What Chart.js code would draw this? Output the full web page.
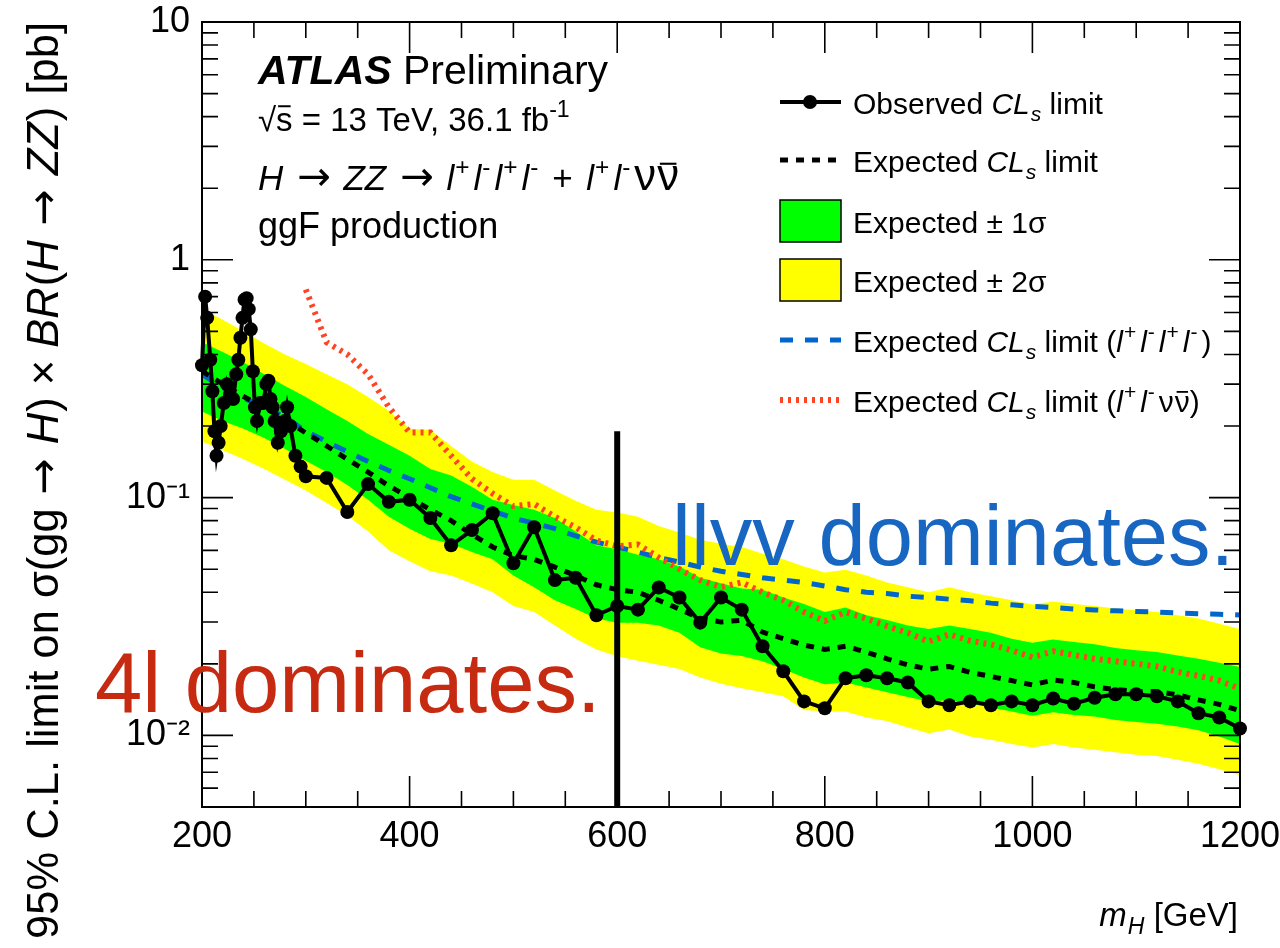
<!DOCTYPE html>
<html>
<head>
<meta charset="utf-8">
<title>H to ZZ limit</title>
<script src="https://cdn.jsdelivr.net/npm/chart.js@4.4.1/dist/chart.umd.min.js"></script>
<style>
  html, body { margin: 0; padding: 0; background: #fff; }
  canvas { display: block; }
</style>
</head>
<body>
<canvas id="limitChart" width="1280" height="948"></canvas>
<script>
// mass grid used by the expected curves and the bands [GeV]
const massGrid = [200, 220, 240, 260, 280, 300, 320, 340, 360, 380, 400, 420, 440, 460, 480, 500, 520, 540, 560, 580,
    600, 620, 640, 660, 680, 700, 720, 740, 760, 780, 800, 820, 840, 860, 880, 900, 920, 940, 960, 980,
    1000, 1020, 1040, 1060, 1080, 1100, 1120, 1140, 1160, 1180, 1200];

const expLimit = [0.34, 0.30, 0.266, 0.24, 0.213, 0.187, 0.165, 0.145, 0.128, 0.112, 0.10, 0.089, 0.080, 0.070, 0.062, 0.057, 0.055, 0.051, 0.047, 0.043,
    0.041, 0.040, 0.037, 0.034, 0.031, 0.030, 0.0305, 0.0272, 0.0255, 0.024, 0.023, 0.0237, 0.0224, 0.021, 0.0198, 0.019, 0.0195, 0.0184, 0.0177, 0.017,
    0.0163, 0.0171, 0.0167, 0.016, 0.0156, 0.0153, 0.0153, 0.0148, 0.0141, 0.0135, 0.0127];

const band1Up = [0.45, 0.41, 0.37, 0.33, 0.295, 0.265, 0.235, 0.21, 0.185, 0.167, 0.15, 0.132, 0.124, 0.111, 0.098, 0.093, 0.089, 0.082, 0.072, 0.063,
    0.0607, 0.0575, 0.055, 0.0513, 0.046, 0.0436, 0.0415, 0.041, 0.038, 0.0357, 0.033, 0.0345, 0.032, 0.0306, 0.029, 0.028, 0.029, 0.028, 0.027, 0.0255,
    0.0245, 0.0253, 0.0247, 0.0242, 0.0233, 0.0228, 0.0224, 0.0217, 0.021, 0.0202, 0.0194];
const band1Down = [0.23, 0.21, 0.195, 0.178, 0.16, 0.143, 0.128, 0.113, 0.098, 0.083, 0.074, 0.067, 0.064, 0.059, 0.055, 0.047, 0.042, 0.037, 0.034, 0.031,
    0.0298, 0.0298, 0.029, 0.027, 0.0235, 0.0221, 0.0216, 0.0205, 0.019, 0.0175, 0.0164, 0.0167, 0.0159, 0.0152, 0.0145, 0.0139, 0.0141, 0.0136, 0.0131, 0.0126,
    0.0121, 0.0125, 0.0122, 0.012, 0.0116, 0.0114, 0.0112, 0.0109, 0.0105, 0.0099, 0.0092];
const band2Up = [0.62, 0.56, 0.50, 0.445, 0.40, 0.365, 0.33, 0.30, 0.265, 0.232, 0.195, 0.193, 0.165, 0.142, 0.128, 0.119, 0.119, 0.107, 0.097, 0.089,
    0.0865, 0.083, 0.076, 0.0713, 0.0665, 0.064, 0.062, 0.058, 0.055, 0.0513, 0.0484, 0.0497, 0.047, 0.044, 0.042, 0.040, 0.042, 0.040, 0.0385, 0.037,
    0.0355, 0.0366, 0.0357, 0.035, 0.0342, 0.0336, 0.033, 0.032, 0.031, 0.0295, 0.028];
const band2Down = [0.172, 0.158, 0.145, 0.132, 0.119, 0.107, 0.095, 0.084, 0.072, 0.06, 0.054, 0.049, 0.047, 0.0435, 0.040, 0.035, 0.033, 0.029, 0.0255, 0.023,
    0.0215, 0.0206, 0.0198, 0.019, 0.0175, 0.0165, 0.0158, 0.0152, 0.0146, 0.0128, 0.0126, 0.0126, 0.0119, 0.0115, 0.0108, 0.0102, 0.0106, 0.0099, 0.0096, 0.0092,
    0.0089, 0.0092, 0.0089, 0.0087, 0.0085, 0.0083, 0.0082, 0.0079, 0.0076, 0.0072, 0.0068];

// expected limit of the 4l channel alone
const exp4l = [0.33, 0.29, 0.262, 0.24, 0.218, 0.19, 0.172, 0.156, 0.142, 0.13, 0.12, 0.11, 0.101, 0.094, 0.088, 0.082, 0.078, 0.074, 0.069, 0.065,
    0.062, 0.059, 0.056, 0.0535, 0.051, 0.049, 0.0475, 0.046, 0.045, 0.044, 0.0425, 0.041, 0.040, 0.0395, 0.0385, 0.038, 0.0374, 0.0368, 0.036, 0.0354,
    0.0349, 0.0345, 0.034, 0.0337, 0.0334, 0.0332, 0.033, 0.0327, 0.0325, 0.0323, 0.0321];

// expected limit of the llvv channel alone (starts at 300 GeV)
const llvvMass = [300, 320, 340, 360, 380, 400, 420, 440, 460, 480, 500, 520, 540, 560, 580, 600, 620, 640, 660, 680,
    700, 720, 740, 760, 780, 800, 820, 840, 860, 880, 900, 920, 940, 960, 980, 1000, 1020, 1040, 1060, 1080,
    1100, 1120, 1140, 1160, 1180, 1200];
const expLlvv = [0.75, 0.45, 0.40, 0.33, 0.24, 0.188, 0.188, 0.15, 0.12, 0.104, 0.092, 0.094, 0.083, 0.075, 0.066, 0.0625, 0.0635, 0.056, 0.05, 0.045,
    0.042, 0.044, 0.040, 0.037, 0.033, 0.0303, 0.033, 0.031, 0.0288, 0.027, 0.0248, 0.0266, 0.025, 0.0241, 0.0228, 0.0213, 0.0226, 0.0218, 0.021, 0.0205,
    0.02, 0.0195, 0.0185, 0.0178, 0.017, 0.0157];

// observed limit
const obsMass = [200, 203, 205, 208, 210, 212, 214, 216, 218, 221, 224, 227, 230, 233, 235, 237, 239, 241, 243, 245,
    247, 249, 251, 253, 256, 259, 262, 264, 266, 268, 270, 273, 276, 280, 282, 285, 290, 295,
    300, 320, 340, 360, 380, 400, 420, 440, 460, 480, 500, 520, 540, 560, 580, 600, 620, 640, 660, 680,
    700, 720, 740, 760, 780, 800, 820, 840, 860, 880, 900, 920, 940, 960, 980, 1000, 1020, 1040, 1060, 1080,
    1100, 1120, 1140, 1160, 1180, 1200];
const obsLimit = [0.36, 0.70, 0.57, 0.38, 0.28, 0.19, 0.15, 0.17, 0.20, 0.25, 0.30, 0.27, 0.26, 0.33, 0.38, 0.47, 0.57, 0.68, 0.69, 0.62,
    0.51, 0.34, 0.24, 0.21, 0.25, 0.25, 0.30, 0.31, 0.26, 0.24, 0.21, 0.17, 0.19, 0.21, 0.24, 0.20, 0.15, 0.135,
    0.123, 0.121, 0.087, 0.114, 0.096, 0.098, 0.082, 0.063, 0.073, 0.086, 0.053, 0.075, 0.045, 0.046, 0.032, 0.035, 0.0338, 0.0419, 0.038, 0.0298,
    0.038, 0.0338, 0.0237, 0.0186, 0.0139, 0.013, 0.0174, 0.0179, 0.0174, 0.0167, 0.0139, 0.0134, 0.0139, 0.0134, 0.0139, 0.0134, 0.0143, 0.0136, 0.0144, 0.0149,
    0.0149, 0.0146, 0.0139, 0.0124, 0.0119, 0.0107];

// vertical divider between the two regimes
const dividerMass = [600, 600];
const dividerLimit = [0.19, 0.005];

const xTickValues = [200, 400, 600, 800, 1000, 1200];
const yTickValues = [0.01, 0.1, 1, 10];
const yTickLabels = ['10\u207B\u00B2', '10\u207B\u00B9', '1', '10'];

const FONT = '"Liberation Sans", Arial, Helvetica, sans-serif';
Chart.defaults.font.family = FONT;
Chart.defaults.color = '#000';

function pts(xs, ys) {
    return xs.map((x, i) => ({ x: x, y: ys[i] }));
}

// text with italic / super- and subscript pieces
function fontFor(p, size) {
    const sz = (p.v ? size * 0.7 : size) * (p.k || 1);
    let st = '';
    if (p.f && p.f.includes('i')) st += 'italic ';
    if (p.f && p.f.includes('b')) st += 'bold ';
    return st + sz + 'px ' + (p.fam || FONT);
}

function drawRich(ctx, parts, x, y, size, align, color) {
    ctx.save();
    ctx.fillStyle = color || '#000';
    ctx.textBaseline = 'alphabetic';
    ctx.textAlign = 'left';
    let w = 0;
    parts.forEach(p => { ctx.font = fontFor(p, size); w += ctx.measureText(p.t).width + (p.gap || 0); });
    let cx = align === 'right' ? x - w : x;
    parts.forEach(p => {
        ctx.font = fontFor(p, size);
        const dy = p.v === 'sup' ? -0.42 * size : p.v === 'sub' ? 0.24 * size : 0;
        ctx.fillText(p.t, cx, y + dy);
        const pw = ctx.measureText(p.t).width;
        if (p.bar) ctx.fillRect(cx + pw * 0.12, y - size * (p.barH || 0.66), pw * 0.76, size * 0.06);
        cx += pw + (p.gap || 0);
    });
    ctx.restore();
    return w;
}

const L = t => ({ t: t, f: 'i', gap: 1 });
const SUP = t => ({ t: t, v: 'sup', gap: 4 });
const ARROW = { t: ' \u2192 ', fam: '"DejaVu Sans", sans-serif' };
const SP = { t: ' ', gap: 3 };
const ARROW_K = { t: '\u2192', fam: '"DejaVu Sans", sans-serif', k: 1.15 };
const NU = { t: '\u03BD', k: 1.25, gap: 1 };
const NUBAR = { t: '\u03BD', k: 1.25, bar: true, barH: 0.78 };

const frameAndText = {
    id: 'frameAndText',
    afterDatasetsDraw(chart) {
        const ctx = chart.ctx;
        const { left, right, top, bottom } = chart.chartArea;
        const xs = chart.scales.x, ys = chart.scales.y;
        ctx.save();
        ctx.strokeStyle = '#000';
        ctx.lineWidth = 1.6;
        ctx.beginPath();
        for (let m = 250; m < 1200; m += 50) {
            const px = xs.getPixelForValue(m);
            const len = m % 200 === 0 ? 31 : 16;
            ctx.moveTo(px, bottom); ctx.lineTo(px, bottom - len);
            ctx.moveTo(px, top); ctx.lineTo(px, top + len);
        }
        for (let d = -3; d <= 1; d++) {
            for (let k = 1; k <= 9; k++) {
                const v = k * Math.pow(10, d);
                if (v <= 0.005 || v >= 10) continue;
                const py = ys.getPixelForValue(v);
                const len = k === 1 ? 31 : 16;
                ctx.moveTo(left, py); ctx.lineTo(left + len, py);
                ctx.moveTo(right, py); ctx.lineTo(right - len, py);
            }
        }
        ctx.stroke();
        ctx.lineWidth = 2;
        ctx.strokeRect(left, top, right - left, bottom - top);
        ctx.restore();
    },
    afterDraw(chart) {
        const ctx = chart.ctx;

        // ATLAS label block
        drawRich(ctx, [{ t: 'ATLAS', f: 'bi' }, { t: ' Preliminary' }], 258, 84, 41);
        drawRich(ctx, [{ t: '\u221A' }, { t: 's', bar: true, barH: 0.78 }, { t: ' = 13 TeV, 36.1 fb' }, SUP('-1')], 258, 131, 33);
        drawRich(ctx, [L('H'), SP, ARROW_K, SP, L('ZZ'), SP, ARROW_K, SP,
            L('l'), SUP('+'), L('l'), SUP('-'), L('l'), SUP('+'), L('l'), SUP('-'), { t: ' + ', gap: 4 },
            L('l'), SUP('+'), L('l'), SUP('-'), NU, NUBAR], 258, 190, 35);
        drawRich(ctx, [{ t: 'ggF production' }], 258, 238, 36);

        // legend
        const lx0 = 780, lx1 = 841, tx = 853, fs = 30;
        const rows = [102, 160, 221, 280, 340, 400];
        ctx.save();
        ctx.lineCap = 'butt';
        ctx.strokeStyle = '#000';
        ctx.lineWidth = 4;
        ctx.beginPath(); ctx.moveTo(lx0, rows[0]); ctx.lineTo(lx1, rows[0]); ctx.stroke();
        ctx.beginPath(); ctx.arc(810, rows[0], 7, 0, Math.PI * 2); ctx.fillStyle = '#000'; ctx.fill();
        ctx.lineWidth = 5; ctx.setLineDash([8, 8]);
        ctx.beginPath(); ctx.moveTo(lx0, rows[1]); ctx.lineTo(lx1, rows[1]); ctx.stroke();
        ctx.setLineDash([]);
        ctx.lineWidth = 1.5;
        ctx.fillStyle = '#00ff00'; ctx.fillRect(lx0, 200, lx1 - lx0, 42); ctx.strokeRect(lx0, 200, lx1 - lx0, 42);
        ctx.fillStyle = '#ffff00'; ctx.fillRect(lx0, 259, lx1 - lx0, 42); ctx.strokeRect(lx0, 259, lx1 - lx0, 42);
        ctx.strokeStyle = '#0066cc'; ctx.lineWidth = 5; ctx.setLineDash([13, 12]);
        ctx.beginPath(); ctx.moveTo(lx0, rows[4]); ctx.lineTo(lx1, rows[4]); ctx.stroke();
        ctx.strokeStyle = '#ff4422'; ctx.lineWidth = 6; ctx.setLineDash([3, 5]);
        ctx.beginPath(); ctx.moveTo(lx0, rows[5]); ctx.lineTo(lx1, rows[5]); ctx.stroke();
        ctx.restore();

        const CLs = [L('CL'), { t: 's', f: 'i', v: 'sub' }];
        drawRich(ctx, [{ t: 'Observed ' }, ...CLs, { t: ' limit' }], tx, rows[0] + 12, fs);
        drawRich(ctx, [{ t: 'Expected ' }, ...CLs, { t: ' limit' }], tx, rows[1] + 12, fs);
        drawRich(ctx, [{ t: 'Expected \u00B1 1\u03C3' }], tx, rows[2] + 12, fs);
        drawRich(ctx, [{ t: 'Expected \u00B1 2\u03C3' }], tx, rows[3] + 12, fs);
        drawRich(ctx, [{ t: 'Expected ' }, ...CLs, { t: ' limit (' }, L('l'), SUP('+'), L('l'), SUP('-'), L('l'), SUP('+'), L('l'), SUP('-'), { t: ')' }], tx, rows[4] + 12, fs);
        drawRich(ctx, [{ t: 'Expected ' }, ...CLs, { t: ' limit (' }, L('l'), SUP('+'), L('l'), SUP('-'), { t: '\u03BD', gap: 1 }, { t: '\u03BD', bar: true, barH: 0.7 }, { t: ')' }], tx, rows[5] + 12, fs);

        // region labels
        drawRich(ctx, [{ t: 'llvv dominates.' }], 672, 565, 85, 'left', '#1766c2');
        drawRich(ctx, [{ t: '4l dominates.' }], 95, 712, 85, 'left', '#c62a10');

        // axis titles
        drawRich(ctx, [L('m'), { t: 'H', f: 'i', v: 'sub' }, { t: ' [GeV]' }], 1238, 926, 33, 'right');
        ctx.save();
        ctx.translate(58, 22);
        ctx.rotate(-Math.PI / 2);
        drawRich(ctx, [{ t: '95% C.L. limit on \u03C3(gg' }, ARROW, L('H'), { t: ') \u00D7 ' }, L('BR'), { t: '(' }, L('H'), ARROW, L('ZZ'), { t: ') [pb]' }], 0, 0, 43.5, 'right');
        ctx.restore();
    }
};

const noLine = 'rgba(0,0,0,0)';

new Chart(document.getElementById('limitChart'), {
    type: 'line',
    data: {
        datasets: [
            { label: 'divider', data: pts(dividerMass, dividerLimit), borderColor: '#000', borderWidth: 6, pointRadius: 0, order: 0 },
            { label: 'Observed CLs limit', data: pts(obsMass, obsLimit), borderColor: '#000', borderWidth: 4,
              pointRadius: 7, pointBackgroundColor: '#000', pointBorderWidth: 0, clip: false, order: 1 },
            { label: 'Expected CLs limit', data: pts(massGrid, expLimit), borderColor: '#000', borderWidth: 5, borderDash: [8, 8], pointRadius: 0, order: 2 },
            { label: 'Expected CLs limit (llvv)', data: pts(llvvMass, expLlvv), borderColor: '#ff4422', borderWidth: 6, borderDash: [3, 5], pointRadius: 0, order: 3 },
            { label: 'Expected CLs limit (4l)', data: pts(massGrid, exp4l), borderColor: '#0066cc', borderWidth: 5, borderDash: [13, 12], pointRadius: 0, order: 4 },
            { label: '+1 sigma', data: pts(massGrid, band1Up), borderColor: noLine, borderWidth: 0, backgroundColor: '#00ff00', fill: '+1', pointRadius: 0, order: 5 },
            { label: '-1 sigma', data: pts(massGrid, band1Down), borderColor: noLine, borderWidth: 0, fill: false, pointRadius: 0, order: 6 },
            { label: '+2 sigma', data: pts(massGrid, band2Up), borderColor: noLine, borderWidth: 0, backgroundColor: '#ffff00', fill: '+1', pointRadius: 0, order: 7 },
            { label: '-2 sigma', data: pts(massGrid, band2Down), borderColor: noLine, borderWidth: 0, fill: false, pointRadius: 0, order: 8 }
        ]
    },
    options: {
        responsive: false,
        animation: false,
        devicePixelRatio: 1,
        layout: { padding: { top: 22, right: 40, left: 0, bottom: 0 } },
        elements: { line: { tension: 0 } },
        plugins: {
            legend: { display: false },
            tooltip: { enabled: false },
            filler: { propagate: false }
        },
        scales: {
            x: {
                type: 'linear',
                min: 200,
                max: 1200,
                grid: { display: false, drawTicks: false },
                border: { display: false },
                afterBuildTicks: s => { s.ticks = xTickValues.map(v => ({ value: v })); },
                afterFit: s => { s.height = 141; s.paddingLeft = 0; s.paddingRight = 0; },
                ticks: { font: { size: 36 }, padding: 8, maxRotation: 0, autoSkip: false, color: '#000', callback: v => String(v) }
            },
            y: {
                type: 'logarithmic',
                min: 0.005,
                max: 10,
                grid: { display: false, drawTicks: false },
                border: { display: false },
                afterBuildTicks: s => { s.ticks = yTickValues.map(v => ({ value: v })); },
                afterFit: s => { s.width = 202; s.paddingTop = 0; s.paddingBottom = 0; },
                ticks: {
                    font: { size: 36 }, padding: 12, autoSkip: false, color: '#000',
                    callback: v => yTickLabels[yTickValues.indexOf(v)]
                }
            }
        }
    },
    plugins: [frameAndText]
});
</script>
</body>
</html>
